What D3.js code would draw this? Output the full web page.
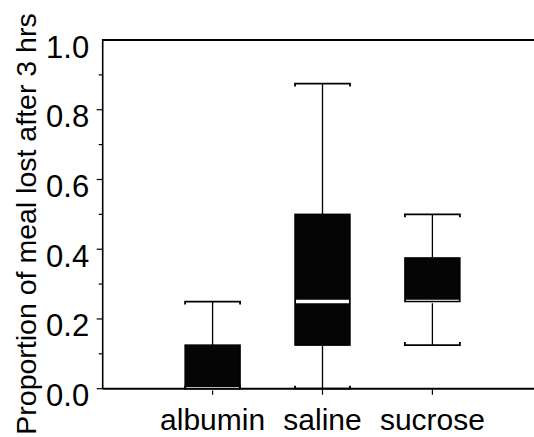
<!DOCTYPE html>
<html>
<head>
<meta charset="utf-8">
<script src="https://cdnjs.cloudflare.com/ajax/libs/d3/7.8.5/d3.min.js"></script>
<style>
    body { margin: 0; background: #fff; }
    #graph-container { width: 534px; height: 437px; }
    text { font-family: "Liberation Sans", Arial, sans-serif; fill: #000; }
</style>
</head>
<body>
<div id="graph-container"></div>
<script>
// 数据
var categories = ["albumin", "saline", "sucrose"];
var lowerWhisker = [0, 0, 0.125];
var q1 = [0, 0.125, 0.25];
var median = [0, 0.25, 0.25];
var q3 = [0.125, 0.5, 0.375];
var upperWhisker = [0.25, 0.875, 0.5];
var yTicks = [0, 0.2, 0.4, 0.6, 0.8, 1.0];
var yMinorTicks = [0.1, 0.3, 0.5, 0.7, 0.9];
var yTitle = "Proportion of meal lost after 3 hrs";

var width = 534, height = 437;
var plotLeft = 102.7, plotTop = 40, plotBottom = 388.7;

var svg = d3.select("#graph-container").append("svg")
    .attr("width", width)
    .attr("height", height);

// 比例尺
var x = d3.scaleLinear().domain([0, 4]).range([plotLeft, plotLeft + 4 * 109.9]);
var y = d3.scaleLinear().domain([0, 1]).range([plotBottom, plotTop]);
var boxW = x(0.5) - x(0);

/*坐标轴框线*/
svg.append("line")
    .attr("x1", plotLeft).attr("x2", width + 10)
    .attr("y1", plotTop).attr("y2", plotTop)
    .attr("stroke", "#000").attr("stroke-width", 2);
svg.append("line")
    .attr("x1", plotLeft).attr("x2", plotLeft)
    .attr("y1", plotTop - 1).attr("y2", plotBottom)
    .attr("stroke", "#000").attr("stroke-width", 1.6);

// y轴刻度
svg.append("g").selectAll("line")
    .data(yTicks.filter(function (d) { return d < 1; }))
    .enter().append("line")
    .attr("x1", plotLeft - 6).attr("x2", plotLeft)
    .attr("y1", function (d) { return y(d); })
    .attr("y2", function (d) { return y(d); })
    .attr("stroke", "#000").attr("stroke-width", 1.2);
svg.append("g").selectAll("line")
    .data(yMinorTicks)
    .enter().append("line")
    .attr("x1", plotLeft - 4).attr("x2", plotLeft)
    .attr("y1", function (d) { return y(d); })
    .attr("y2", function (d) { return y(d); })
    .attr("stroke", "#000").attr("stroke-width", 1.2);
svg.append("g").selectAll("text")
    .data(yTicks)
    .enter().append("text")
    .attr("x", plotLeft - 13.5)
    .attr("y", function (d) { return y(d) + 17.5; })
    .attr("text-anchor", "end")
    .style("font-size", "31px")
    .text(function (d) { return d3.format(".1f")(d); });

// x轴刻度与标签
svg.append("g").selectAll("line")
    .data(categories)
    .enter().append("line")
    .attr("x1", function (d, i) { return x(i + 1); })
    .attr("x2", function (d, i) { return x(i + 1); })
    .attr("y1", plotBottom).attr("y2", plotBottom + 6)
    .attr("stroke", "#000").attr("stroke-width", 1.2);
svg.append("g").selectAll("text")
    .data(categories)
    .enter().append("text")
    .attr("x", function (d, i) { return x(i + 1); })
    .attr("y", 429.5)
    .attr("text-anchor", "middle")
    .style("font-size", "30px")
    .text(function (d) { return d; });

// y轴标题
svg.append("text")
    .attr("transform", "translate(36,224)rotate(-90)")
    .attr("text-anchor", "middle")
    .style("font-size", "28.5px")
    .text(yTitle);

/*箱线图绘制*/
var boxes = svg.append("g").selectAll("g")
    .data(categories)
    .enter().append("g");

// 须线
boxes.append("line")
    .attr("x1", function (d, i) { return x(i + 1); })
    .attr("x2", function (d, i) { return x(i + 1); })
    .attr("y1", function (d, i) { return y(lowerWhisker[i]); })
    .attr("y2", function (d, i) { return y(upperWhisker[i]); })
    .attr("stroke", "#000").attr("stroke-width", 1.3);
// 上须帽
boxes.append("path")
    .attr("d", function (d, i) {
        var yy = y(upperWhisker[i]);
        return "M" + (x(i + 1) - boxW / 2) + "," + (yy + 3) + "V" + yy +
            "H" + (x(i + 1) + boxW / 2) + "V" + (yy + 3);
    })
    .attr("fill", "none").attr("stroke", "#000").attr("stroke-width", 1.8);
// 下须帽
boxes.append("path")
    .attr("d", function (d, i) {
        var yy = y(lowerWhisker[i]);
        return "M" + (x(i + 1) - boxW / 2) + "," + (yy - 3) + "V" + yy +
            "H" + (x(i + 1) + boxW / 2) + "V" + (yy - 3);
    })
    .attr("fill", "none").attr("stroke", "#000").attr("stroke-width", 1.8);
// 箱体
boxes.append("rect")
    .attr("x", function (d, i) { return x(i + 1) - boxW / 2; })
    .attr("y", function (d, i) { return y(q3[i]); })
    .attr("width", boxW)
    .attr("height", function (d, i) { return y(q1[i]) - y(q3[i]); })
    .attr("fill", "#050505");
// 中位数（白线）
boxes.append("line")
    .attr("x1", function (d, i) { return x(i + 1) - boxW / 2 + 1; })
    .attr("x2", function (d, i) { return x(i + 1) + boxW / 2 - 1; })
    .attr("y1", function (d, i) { return y(median[i]); })
    .attr("y2", function (d, i) { return y(median[i]); })
    .attr("stroke", "#fff").attr("stroke-width", 3.5);
// 箱体边框
boxes.append("rect")
    .attr("x", function (d, i) { return x(i + 1) - boxW / 2; })
    .attr("y", function (d, i) { return y(q3[i]); })
    .attr("width", boxW)
    .attr("height", function (d, i) { return y(q1[i]) - y(q3[i]); })
    .attr("fill", "none").attr("stroke", "#000").attr("stroke-width", 1.5);

// 底部轴线（最后绘制）
svg.append("line")
    .attr("x1", plotLeft).attr("x2", width + 10)
    .attr("y1", plotBottom).attr("y2", plotBottom)
    .attr("stroke", "#000").attr("stroke-width", 2);
</script>
</body>
</html>
